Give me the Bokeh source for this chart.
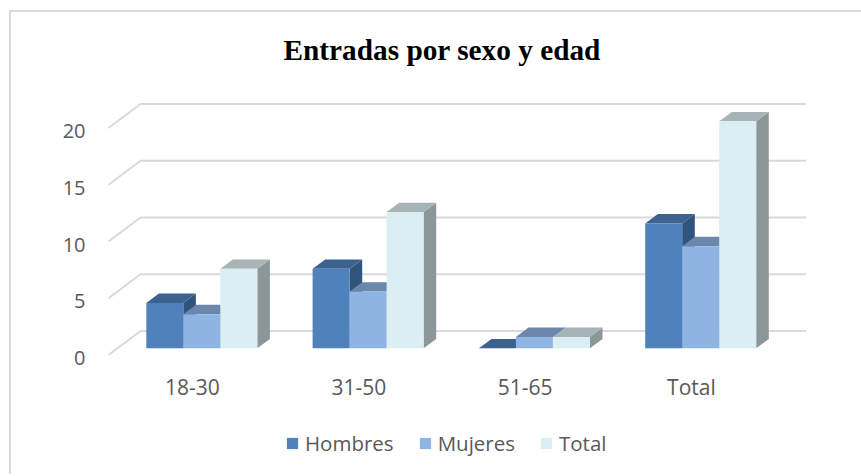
from bokeh.plotting import figure
from bokeh.models import Range1d, FixedTicker, Legend, LegendItem, ColumnDataSource
from bokeh.embed import file_html
from bokeh.resources import INLINE

categories = ["18-30", "31-50", "51-65", "Total"]
series_names = ["Hombres", "Mujeres", "Total"]
hombres = [4, 7, 0, 11]
mujeres = [3, 5, 1, 9]
total = [7, 12, 1, 20]
y_ticks = [0, 5, 10, 15, 20]

front_colors = ["#4f81bd", "#8db4e3", "#dbeef4"]
top_colors = ["#3c628f", "#6b87ab", "#a6b4b8"]
side_colors = ["#31547c", "#5f7a9e", "#8b9699"]
grid_color = "#d9d9d9"
text_color = "#595959"

# page-pixel geometry (the border adds 2px before the canvas starts)
OX, OY = 9, 10
BORDER = 2
FIG_W, FIG_H = 861 - OX, 476 - OY
FRAME_L, FRAME_R, FRAME_T, FRAME_B = 100, 806, 85, 470
AXIS_PX = 362
PX_PER_CAT = 166.3
PX_PER_VAL = 11.35
CAT0_PX = 192.0
VAL0_PX = 357.5

x_range = Range1d((FRAME_L - CAT0_PX) / PX_PER_CAT, (FRAME_R - CAT0_PX) / PX_PER_CAT)
y_range = Range1d((VAL0_PX - FRAME_B) / PX_PER_VAL, (VAL0_PX - FRAME_T) / PX_PER_VAL)

p = figure(width=FIG_W, height=FIG_H, output_backend="svg", toolbar_location=None,
           x_range=x_range, y_range=y_range, tools="",
           frame_width=FRAME_R - FRAME_L, frame_height=FRAME_B - FRAME_T,
           min_border_left=FRAME_L - OX - BORDER, min_border_top=FRAME_T - OY - BORDER,
           min_border_right=OX + FIG_W - FRAME_R, min_border_bottom=4)
p.margin = (OY, 0, 0, OX)
p.styles = {"border-top": f"2px solid {grid_color}", "border-left": f"2px solid {grid_color}"}
p.outline_line_color = None
p.grid.visible = False
p.background_fill_color = "white"
p.border_fill_color = "white"

# title
p.title.text = "Entradas por sexo y edad"
p.title.align = "left"
p.title.offset = 183
p.title.text_font = "Liberation Serif"
p.title.text_font_style = "bold"
p.title.text_font_size = "29.3px"
p.title.text_color = "black"
p.title.standoff = 39

# axes
for ax in (p.xaxis[0], p.yaxis[0]):
    ax.axis_line_color = None
    ax.major_tick_line_color = None
    ax.minor_tick_line_color = None
    ax.major_label_text_font = "Open Sans"
    ax.major_label_text_color = text_color
p.yaxis[0].major_label_text_font_size = "20px"
p.xaxis[0].major_label_text_font_size = "21px"
p.yaxis[0].ticker = FixedTicker(ticks=y_ticks)
p.yaxis[0].major_label_standoff = 9
p.xaxis[0].ticker = FixedTicker(ticks=list(range(len(categories))))
p.xaxis[0].major_label_overrides = {i: c for i, c in enumerate(categories)}
p.xaxis[0].major_label_standoff = 4
p.xaxis[0].fixed_location = (VAL0_PX - AXIS_PX) / PX_PER_VAL

# depth of the pseudo-3D scene, expressed in data units
wall_dx = 32 / PX_PER_CAT
wall_front = 3 / PX_PER_VAL
wall_dy = 24 / PX_PER_VAL
wall_x0 = (108 - CAT0_PX) / PX_PER_CAT
wall_x1 = (806 - CAT0_PX) / PX_PER_CAT
bar_lift = 9.7 / PX_PER_VAL
bar_shift = 9.3 / PX_PER_CAT
bar_w = 37 / PX_PER_CAT
depth_dx = 12.6 / PX_PER_CAT
depth_dy = 9.4 / PX_PER_VAL

# gridlines
xs = [[wall_x0, wall_x0 + wall_dx, wall_x1] for _ in y_ticks]
ys = [[t + wall_front, t + wall_front + wall_dy, t + wall_front + wall_dy] for t in y_ticks]
p.multi_line(xs, ys, line_color=grid_color, line_width=2)

# bars, painted left to right
items = []
for s, vals in enumerate([hombres, mujeres, total]):
    top_x, top_y, side_x, side_y, cx, bottoms, tops = [], [], [], [], [], [], []
    for i, v in enumerate(vals):
        c = i + bar_shift + (s - 1) * bar_w
        l, r = c - bar_w / 2, c + bar_w / 2
        b, t = bar_lift, bar_lift + v
        top_x.append([l, r, r + depth_dx, l + depth_dx])
        top_y.append([t, t, t + depth_dy, t + depth_dy])
        side_x.append([r, r + depth_dx, r + depth_dx, r])
        side_y.append([b, b + depth_dy, t + depth_dy, t])
        cx.append(c); bottoms.append(b); tops.append(t)
    p.patches(side_x, side_y, fill_color=side_colors[s], line_color=None)
    p.patches(top_x, top_y, fill_color=top_colors[s], line_color=None)
    src = ColumnDataSource(dict(x=cx, bottom=bottoms, top=tops))
    r = p.vbar(x="x", bottom="bottom", top="top", width=bar_w, source=src,
               fill_color=front_colors[s], line_color=None)
    items.append(LegendItem(label=series_names[s], renderers=[r]))

legend = Legend(items=items, orientation="horizontal",
                location=(185, 13),
                border_line_color=None, background_fill_alpha=0,
                label_text_font="Open Sans", label_text_font_size="20.5px",
                label_text_color=text_color, glyph_width=14, glyph_height=14,
                spacing=24, label_standoff=6, margin=0, padding=0)
p.add_layout(legend, "center")

open("out.html", "w").write(file_html(p, INLINE))
